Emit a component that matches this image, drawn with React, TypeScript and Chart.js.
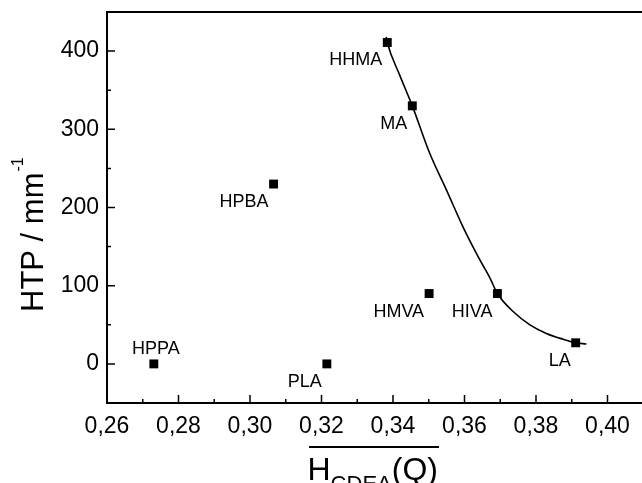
import React, { useEffect, useRef } from "react";
import { Chart, registerables } from "chart.js";

Chart.register(...registerables);

// ---- data ----
const sampleNames = ["HPPA", "HPBA", "PLA", "HHMA", "MA", "HMVA", "HIVA", "LA"];
const hcdeaValues = [0.2731, 0.3066, 0.3215, 0.3384, 0.3454, 0.3501, 0.3692, 0.3911];
const htpValues = [0, 230, 0, 411, 330, 90, 90, 27];

// fitted curve through HHMA / MA / HIVA / LA
const curveX = [0.3381, 0.3384, 0.3419, 0.3454, 0.3503, 0.355, 0.3596, 0.3643, 0.3671, 0.3692, 0.3736, 0.3783, 0.3829, 0.3876, 0.3911, 0.3941];
const curveY = [418, 411, 369, 330, 269, 222, 175, 133, 110, 90, 67, 50, 39, 31.5, 27, 25.5];

// ticks
const xMajorTicks = [0.26, 0.28, 0.3, 0.32, 0.34, 0.36, 0.38, 0.4];
const xMinorTicks = [0.27, 0.29, 0.31, 0.33, 0.35, 0.37, 0.39, 0.41];
const yMajorTicks = [0, 100, 200, 300, 400];
const yMinorTicks = [50, 150, 250, 350];

const X_MIN = 0.26;
const X_MAX = 0.42;
const Y_MIN = -50;
const Y_MAX = 450;

const FONT = "'Liberation Sans', Arial, Helvetica, sans-serif";

const fmtX = (v: number) => v.toFixed(2).replace(".", ",");

const framePlugin = {
  id: "frameTicks",
  afterDraw(chart: any) {
    const { ctx, chartArea } = chart;
    const xs = chart.scales.x;
    const ys = chart.scales.y;
    ctx.save();
    ctx.strokeStyle = "#000";
    ctx.lineWidth = 2;
    ctx.strokeRect(chartArea.left, chartArea.top, chartArea.right - chartArea.left, chartArea.bottom - chartArea.top);
    ctx.lineWidth = 1.5;
    const major = 8;
    const minor = 4;
    ctx.beginPath();
    xMajorTicks.forEach((v) => {
      const px = xs.getPixelForValue(v);
      ctx.moveTo(px, chartArea.bottom);
      ctx.lineTo(px, chartArea.bottom - major);
    });
    xMinorTicks.forEach((v) => {
      const px = xs.getPixelForValue(v);
      ctx.moveTo(px, chartArea.bottom);
      ctx.lineTo(px, chartArea.bottom - minor);
    });
    yMajorTicks.forEach((v) => {
      const py = ys.getPixelForValue(v);
      ctx.moveTo(chartArea.left, py);
      ctx.lineTo(chartArea.left + major, py);
    });
    yMinorTicks.forEach((v) => {
      const py = ys.getPixelForValue(v);
      ctx.moveTo(chartArea.left, py);
      ctx.lineTo(chartArea.left + minor, py);
    });
    ctx.stroke();
    ctx.restore();
  },
};

const labelPlugin = {
  id: "pointLabels",
  afterDatasetsDraw(chart: any) {
    const { ctx } = chart;
    const meta = chart.getDatasetMeta(1);
    ctx.save();
    ctx.fillStyle = "#000";
    ctx.font = `18px ${FONT}`;
    ctx.textBaseline = "alphabetic";
    meta.data.forEach((pt: any, i: number) => {
      const name = sampleNames[i];
      if (name === "HPPA") {
        ctx.textAlign = "center";
        ctx.fillText(name, pt.x + 2, pt.y - 10);
      } else {
        ctx.textAlign = "right";
        ctx.fillText(name, pt.x - 5, pt.y + 23);
      }
    });
    ctx.restore();
  },
};

const titlePlugin = {
  id: "axisTitles",
  afterDraw(chart: any) {
    const { ctx } = chart;
    ctx.save();
    ctx.fillStyle = "#000";
    ctx.strokeStyle = "#000";
    ctx.textBaseline = "alphabetic";
    ctx.textAlign = "left";

    // Y title (rotated)
    ctx.save();
    ctx.translate(43, 312);
    ctx.rotate(-Math.PI / 2);
    ctx.font = `31px ${FONT}`;
    const main = "HTP / mm";
    ctx.fillText(main, 0, 0);
    const w = ctx.measureText(main).width;
    ctx.font = `16px ${FONT}`;
    ctx.fillText("-1", w + 1, -20);
    ctx.restore();

    // X title with overline and subscript
    let x = 307.5;
    const base = 479.5;
    ctx.font = `32px ${FONT}`;
    ctx.fillText("H", x, base);
    x += ctx.measureText("H").width;
    ctx.font = `22px ${FONT}`;
    ctx.fillText("CDEA", x, base + 11);
    x += ctx.measureText("CDEA").width;
    ctx.font = `32px ${FONT}`;
    ctx.fillText("(Q)", x, base);
    ctx.lineWidth = 2;
    ctx.beginPath();
    ctx.moveTo(309, 447);
    ctx.lineTo(439, 447);
    ctx.stroke();
    ctx.restore();
  },
};

export default function App() {
  const ref = useRef<HTMLCanvasElement | null>(null);

  useEffect(() => {
    if (!ref.current) return;
    const chart = new Chart(ref.current, {
      type: "scatter",
      data: {
        datasets: [
          {
            type: "line",
            label: "fit",
            data: curveX.map((x, i) => ({ x, y: curveY[i] })),
            borderColor: "#000",
            borderWidth: 1.6,
            pointRadius: 0,
            fill: false,
            cubicInterpolationMode: "monotone",
            showLine: true,
          } as any,
          {
            label: "HTP",
            data: hcdeaValues.map((x, i) => ({ x, y: htpValues[i] })),
            pointStyle: "rect",
            pointRadius: 6.3,
            pointHoverRadius: 6.3,
            backgroundColor: "#000",
            borderColor: "#000",
            borderWidth: 0,
            showLine: false,
          },
        ],
      },
      options: {
        animation: false,
        responsive: false,
        maintainAspectRatio: false,
        layout: { padding: { top: 12, right: 21, left: 0, bottom: 0 } },
        plugins: {
          legend: { display: false },
          tooltip: { enabled: false },
          title: { display: false },
        },
        scales: {
          x: {
            type: "linear",
            min: X_MIN,
            max: X_MAX,
            grid: { display: false, drawTicks: false },
            border: { display: false },
            afterBuildTicks: (s: any) => {
              s.ticks = xMajorTicks.map((v) => ({ value: v }));
            },
            afterFit: (s: any) => {
              s.height = 80;
              s.paddingLeft = 0;
              s.paddingRight = 0;
            },
            ticks: {
              color: "#000",
              font: { family: FONT, size: 23 },
              padding: 10,
              maxRotation: 0,
              autoSkip: false,
              callback: (v: any) => fmtX(Number(v)),
            },
          },
          y: {
            type: "linear",
            min: Y_MIN,
            max: Y_MAX,
            grid: { display: false, drawTicks: false },
            border: { display: false },
            afterBuildTicks: (s: any) => {
              s.ticks = yMajorTicks.map((v) => ({ value: v }));
            },
            afterFit: (s: any) => {
              s.width = 107;
              s.paddingTop = 0;
              s.paddingBottom = 0;
            },
            ticks: {
              color: "#000",
              font: { family: FONT, size: 23 },
              padding: 8,
              autoSkip: false,
              callback: (v: any) => String(v),
            },
          },
        },
      },
      plugins: [framePlugin, labelPlugin, titlePlugin],
    });
    return () => chart.destroy();
  }, []);

  return (
    <div
      style={{
        position: "fixed",
        left: 0,
        top: 0,
        width: 642,
        height: 483,
        overflow: "hidden",
        background: "#fff",
      }}
    >
      <canvas ref={ref} width={700} height={483} style={{ display: "block" }} />
    </div>
  );
}
